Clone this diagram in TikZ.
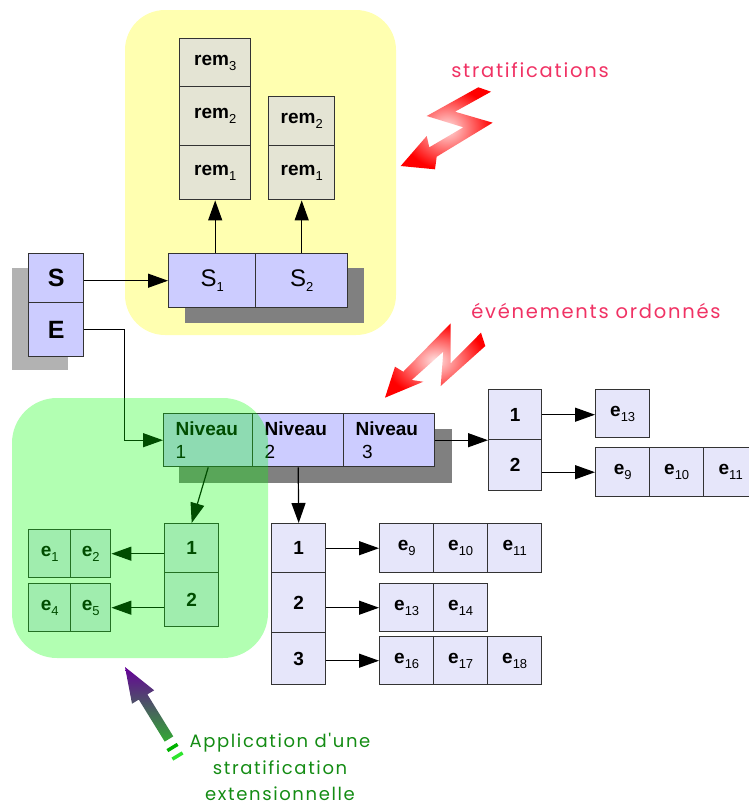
\documentclass[tikz,border=0pt]{standalone}
\usepackage{fontspec}
\setmainfont{Liberation Sans}
\newfontfamily\notefont{Poppins}[LetterSpace=9]
\usetikzlibrary{arrows.meta}

\definecolor{boxline}{RGB}{51,51,51}
\definecolor{lav}{RGB}{204,204,255}
\definecolor{lavlight}{RGB}{230,230,250}
\definecolor{remfill}{RGB}{228,228,212}
\definecolor{yellowzone}{RGB}{255,255,176}
\definecolor{shadowdark}{RGB}{128,128,128}
\definecolor{shadowlight}{RGB}{178,178,178}
\definecolor{notered}{RGB}{240,50,100}
\definecolor{notegreen}{RGB}{20,140,20}
\definecolor{arrowpurple}{RGB}{102,0,153}
\definecolor{arrowgreen}{RGB}{50,170,50}

\newcommand{\ix}[1]{\raisebox{-5pt}{\fontsize{13}{13}\selectfont\mdseries #1}}

\tikzset{
  cell/.style={draw=boxline, line width=1.4pt, anchor=north west, inner sep=0pt,
    font=\fontsize{19}{23}\selectfont\bfseries},
  remcell/.style={cell, fill=remfill},
  topcell/.style={cell, fill=lav},
  subcell/.style={cell, fill=lavlight},
  niveau/.style={topcell, minimum height=53, inner xsep=12, text width=65, align=left},
  link/.style={-{Triangle[length=20pt,width=14pt]}, line width=1.2pt},
  notetext/.style={font=\notefont\fontsize{19.5}{27}\selectfont, inner sep=0pt},
}

\begin{document}
\begin{tikzpicture}[x=1pt,y=-1pt]
\useasboundingbox (0,0) rectangle (749,807);
% stratification zone
\fill[yellowzone, rounded corners=40] (125,10) rectangle (396,335);
% shadows
\fill[shadowlight] (12,268) rectangle (68,370);
\fill[shadowdark] (185,268) rectangle (364,323);
\fill[shadowdark] (179,429) rectangle (452,483);

% S / E
\node[topcell, minimum width=55, minimum height=49, font=\fontsize{25}{28}\selectfont\bfseries] (sbox) at (28,253) {S};
\node[topcell, minimum width=55, minimum height=54, font=\fontsize{25}{28}\selectfont\bfseries] (ebox) at (28,302) {E};

% stratifications
\node[topcell, minimum width=87, minimum height=54, font=\fontsize{24}{26}\selectfont] (s1) at (168,253) {S\ix{1}};
\node[topcell, minimum width=92, minimum height=54, font=\fontsize{24}{26}\selectfont] (s2) at (255,253) {S\ix{2}};
\node[remcell, minimum width=71, minimum height=48] (ra3) at (179,38) {rem\ix{3}};
\node[remcell, minimum width=71, minimum height=59] (ra2) at (179,86) {rem\ix{2}};
\node[remcell, minimum width=71, minimum height=54] (ra1) at (179,145) {rem\ix{1}};
\node[remcell, minimum width=66, minimum height=49] (rb2) at (268,96) {rem\ix{2}};
\node[remcell, minimum width=66, minimum height=54] (rb1) at (268,145) {rem\ix{1}};

% niveaux
\node[niveau] (n1) at (163,413) {Niveau\\\mdseries 1};
\node[niveau, text width=67] (n2) at (252,413) {Niveau\\\mdseries 2};
\node[niveau, text width=67] (n3) at (343,413) {Niveau\\\mdseries\ 3};

% niveau 1
\node[subcell, minimum width=54, minimum height=49] (g1) at (164,523) {1};
\node[subcell, minimum width=54, minimum height=54] (g2) at (164,572) {2};
\node[subcell, minimum width=42, minimum height=48] (e1) at (28,529) {e\ix{1}};
\node[subcell, minimum width=40, minimum height=48] (e2) at (70,529) {e\ix{2}};
\node[subcell, minimum width=42, minimum height=48] (e4) at (28,583) {e\ix{4}};
\node[subcell, minimum width=40, minimum height=48] (e5) at (70,583) {e\ix{5}};

% niveau 2
\node[subcell, minimum width=54, minimum height=49] (h1) at (271,523) {1};
\node[subcell, minimum width=54, minimum height=60] (h2) at (271,572) {2};
\node[subcell, minimum width=54, minimum height=52] (h3) at (271,632) {3};
\node[subcell, minimum width=54, minimum height=49] (k9) at (379,523) {e\ix{9}};
\node[subcell, minimum width=54, minimum height=49] (k10) at (433,523) {e\ix{10}};
\node[subcell, minimum width=54, minimum height=49] (k11) at (487,523) {e\ix{11}};
\node[subcell, minimum width=54, minimum height=48] (k13) at (379,583) {e\ix{13}};
\node[subcell, minimum width=54, minimum height=48] (k14) at (433,583) {e\ix{14}};
\node[subcell, minimum width=54, minimum height=48] (k16) at (379,636) {e\ix{16}};
\node[subcell, minimum width=54, minimum height=48] (k17) at (433,636) {e\ix{17}};
\node[subcell, minimum width=54, minimum height=48] (k18) at (487,636) {e\ix{18}};

% niveau 3
\node[subcell, minimum width=53, minimum height=50] (m1) at (488,389) {1};
\node[subcell, minimum width=53, minimum height=51] (m2) at (488,439) {2};
\node[subcell, minimum width=54, minimum height=48] (q13) at (595,389) {e\ix{13}};
\node[subcell, minimum width=54, minimum height=49] (q9) at (595,447) {e\ix{9}};
\node[subcell, minimum width=54, minimum height=49] (q10) at (649,447) {e\ix{10}};
\node[subcell, minimum width=54, minimum height=49] (q11) at (703,447) {e\ix{11}};

% links
\draw[link] (s1.west -| sbox.east) -- (s1.west);
\draw[link] (ebox.east) -- ++(40,0) |- (n1.west);
\draw[link] (ra1.south |- s1.north) -- (ra1.south);
\draw[link] (rb1.south |- s2.north) -- (rb1.south);
\draw[link] (n1.south) -- (g1.north);
\draw[link] (e2.east -| g1.west) -- (e2.east);
\draw[link] (e5.east -| g2.west) -- (e5.east);
\draw[link] (n2.south) -- (h1.north);
\draw[link] (k9.west -| h1.east) -- (k9.west);
\draw[link] (k13.west -| h2.east) -- (k13.west);
\draw[link] (k16.west -| h3.east) -- (k16.west);
\draw[link] (n3.east) -- (n3.east -| m1.west);
\draw[link] (m1.east) -- (m1.east -| q13.west);
\draw[link] (q9.west -| m2.east) -- (q9.west);

% extensional zone
\fill[green, opacity=0.3, rounded corners=45] (12,398) rectangle (268,658);

% notes
\shade[inner color=red!12, outer color=red] (478.3,87.3) -- (491,91.7) -- (455,111.7) -- (492.7,122.7)
  -- (436.7,156.7) -- (435,169.3) -- (400.7,166) -- (426.7,136) -- (429.3,147.3)
  -- (463.3,127.3) -- (426.7,116) -- cycle;
\shade[inner color=red!12, outer color=red] (481,332.7) -- (485.3,346) -- (440.7,386) -- (443.3,351.7)
  -- (411.7,380) -- (423.3,381.7) -- (385,397.7) -- (395,366.7) -- (403.3,371.7)
  -- (450.7,323.3) -- (450.7,363.3) -- cycle;
\node[notetext, text=notered] (stratnote) at (530,70) {stratifications};
\node[notetext, text=notered] (eventnote) at (596,311) {événements ordonnés};

\shade[top color=arrowpurple, bottom color=arrowgreen] (125,667) -- (154.2,690.3) -- (147.4,694.4)
  -- (173.3,736.4) -- (164.7,741.6) -- (138.8,699.6) -- (132,703.7) -- cycle;
\draw[green!70!black, line width=3.5pt] (167.4,750.6) -- (177.6,744.4);
\draw[green!80!white!90!black, line width=3.5pt] (172.4,759.1) -- (182.6,752.9);
\node[notetext, font=\notefont\fontsize{18}{26.5}\selectfont, text=notegreen, align=center, anchor=south]
  (appnote) at (280,801) {Application d'une\\stratification\\extensionnelle};
\end{tikzpicture}
\end{document}
